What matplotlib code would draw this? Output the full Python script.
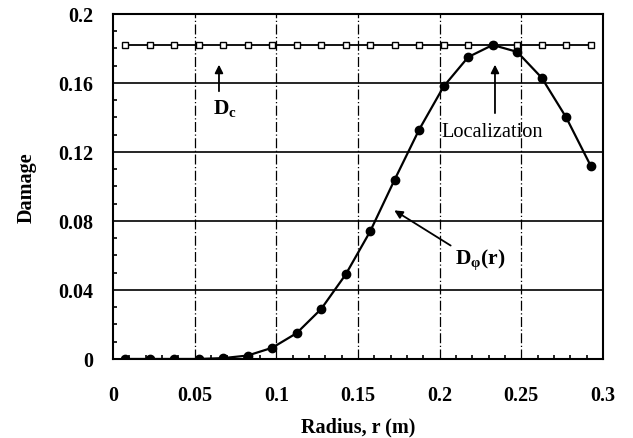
import matplotlib
matplotlib.use("Agg")
import matplotlib.pyplot as plt
from matplotlib.ticker import MultipleLocator

plt.rcParams['font.family'] = ['Liberation Serif', 'DejaVu Serif']
plt.rcParams['font.weight'] = 'bold'
plt.rcParams['mathtext.fontset'] = 'custom'
plt.rcParams['mathtext.rm'] = 'Liberation Serif:bold'
plt.rcParams['mathtext.it'] = 'Liberation Serif:bold'
plt.rcParams['mathtext.bf'] = 'Liberation Serif:bold'

radius = [0.0075, 0.0225, 0.0375, 0.0525, 0.0675, 0.0825, 0.0975, 0.1125,
          0.1275, 0.1425, 0.1575, 0.1725, 0.1875, 0.2025, 0.2175, 0.2325,
          0.2475, 0.2625, 0.2775, 0.2925]
d_c = [0.182] * 20
d_phi = [0.0, 0.0, 0.0, 0.0, 0.0005, 0.002, 0.0065, 0.015, 0.029, 0.049,
         0.074, 0.104, 0.133, 0.158, 0.175, 0.182, 0.178, 0.163, 0.140, 0.112]
x_ticks = [0, 0.05, 0.1, 0.15, 0.2, 0.25, 0.3]
x_labels = ['0', '0.05', '0.1', '0.15', '0.2', '0.25', '0.3']
y_ticks = [0, 0.04, 0.08, 0.12, 0.16, 0.2]
y_labels = ['0', '0.04', '0.08', '0.12', '0.16', '0.2']

fig = plt.figure(figsize=(6.33, 4.39), dpi=100)
ax = fig.add_axes([0.1785, 0.18, 0.774, 0.786])

for yv in [0.04, 0.08, 0.12, 0.16]:
    ax.axhline(yv, color='black', lw=1.2, zorder=1)
for xv in [0.05, 0.1, 0.15, 0.2, 0.25]:
    ax.axvline(xv, color='black', lw=0.9, ls=(0, (8, 2, 1, 2)), zorder=1)

ax.plot(radius, d_c, color='black', lw=1.3, marker='s', ms=4.5,
        mfc='white', mec='black', mew=1.0, zorder=3)
ax.plot(radius, d_phi, color='black', lw=1.6, marker='o', ms=6,
        mfc='black', mec='black', zorder=4)

ax.set_xlim(0, 0.3)
ax.set_ylim(0, 0.2)
ax.set_xticks(x_ticks)
ax.set_xticklabels(x_labels)
ax.set_yticks(y_ticks)
ax.set_yticklabels(y_labels)
ax.xaxis.set_minor_locator(MultipleLocator(0.01))
ax.yaxis.set_minor_locator(MultipleLocator(0.01))
ax.tick_params(which='both', direction='in', top=False, right=False)
ax.tick_params(which='major', length=0, labelsize=14.5)
ax.tick_params(axis='x', which='major', pad=19)
ax.tick_params(axis='y', which='major', pad=14)
ax.tick_params(which='minor', length=3, width=1.2)
for lab in ax.get_xticklabels() + ax.get_yticklabels():
    lab.set_fontweight('bold')
for s in ax.spines.values():
    s.set_linewidth(1.5)

ax.set_xlabel('Radius, r (m)', fontsize=14.5, fontweight='bold', labelpad=8)
ax.set_ylabel('Damage', fontsize=14.5, fontweight='bold', labelpad=16)

arrowprops = dict(arrowstyle='-|>', color='black', lw=1.3, mutation_scale=12)
ax.annotate('', xy=(0.0649, 0.1722), xytext=(0.0649, 0.1536), arrowprops=arrowprops)
ax.text(0.0686, 0.146, r'$\mathrm{D_c}$', fontsize=15.5, ha='center', va='center')

ax.annotate('', xy=(0.2339, 0.1722), xytext=(0.2339, 0.1409), arrowprops=arrowprops)
ax.text(0.232, 0.1316, 'Localization', fontsize=14.7, fontweight='normal',
        ha='center', va='center')

ax.annotate('', xy=(0.1708, 0.0870), xytext=(0.2082, 0.0649), arrowprops=arrowprops)
ax.text(0.2247, 0.058, r'$\mathrm{D_\varphi(r)}$', fontsize=15.5, ha='center', va='center')

fig.savefig('out.png', dpi=100)
